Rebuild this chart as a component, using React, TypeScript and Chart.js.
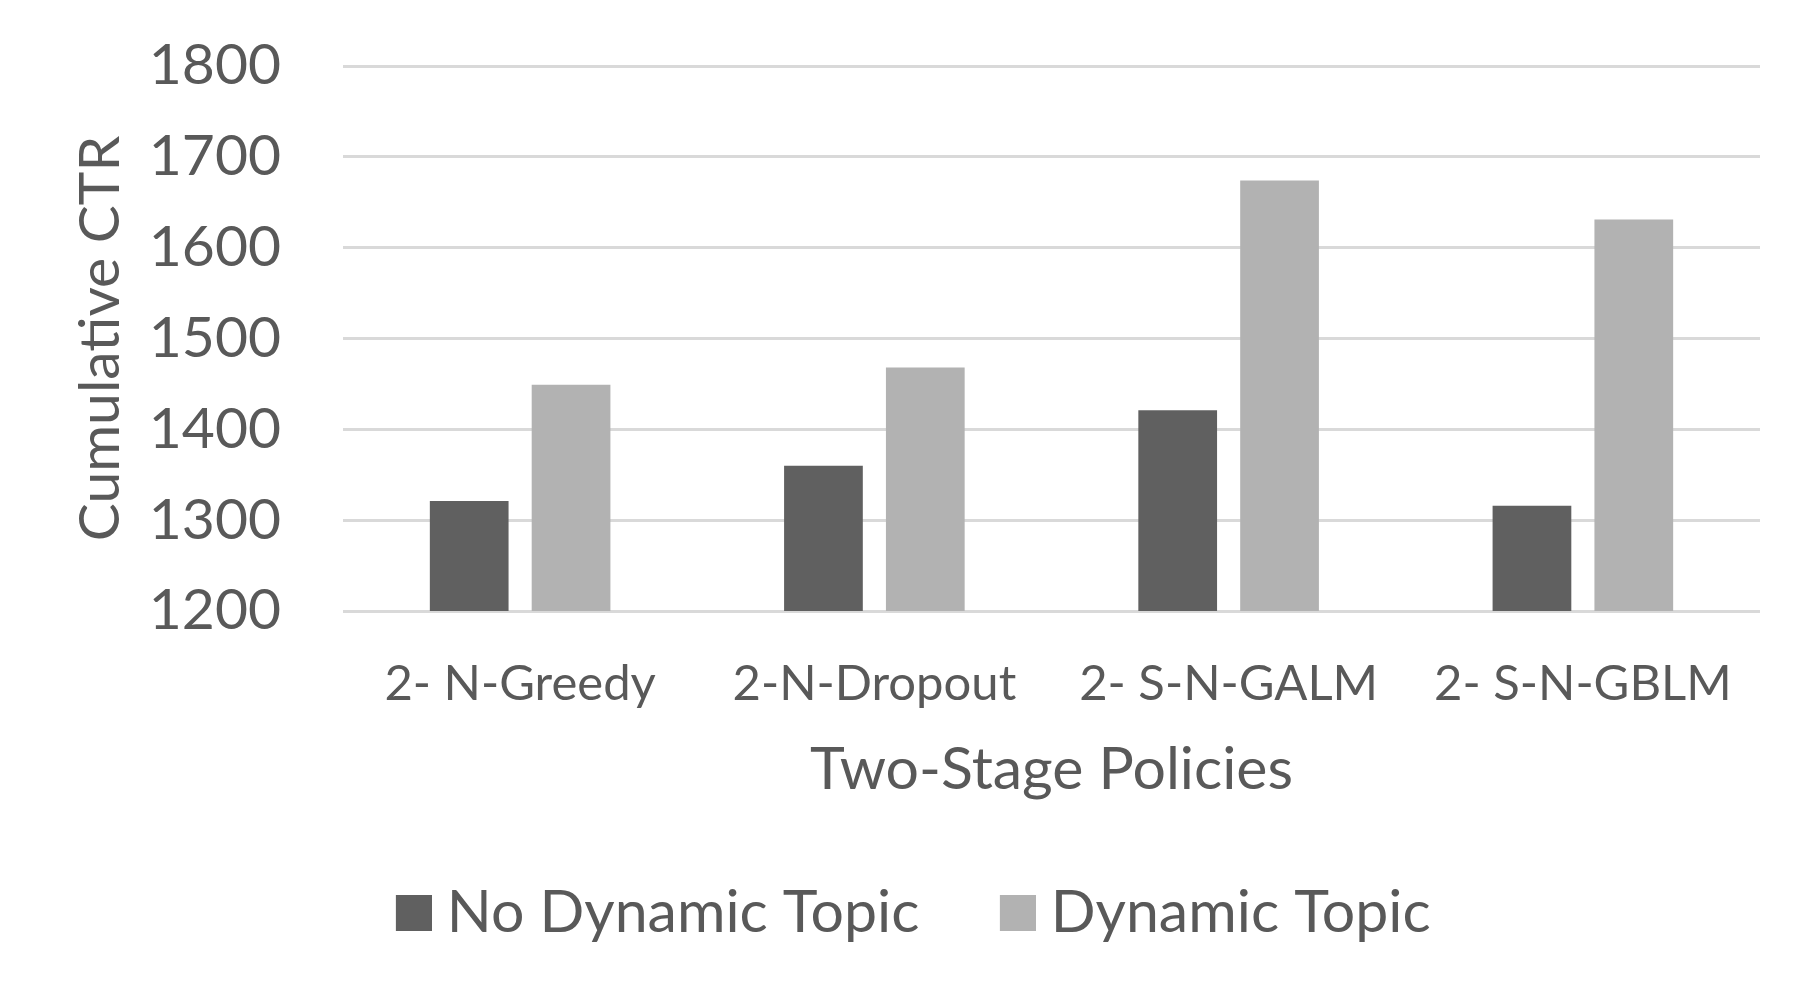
import React, { useEffect, useRef } from "react";
import { Chart, registerables } from "chart.js";

Chart.register(...registerables);

const categories = ["2- N-Greedy", "2-N-Dropout", "2- S-N-GALM", "2- S-N-GBLM"];
const noDynamicTopic = [1321, 1360, 1421, 1316];
const dynamicTopic = [1449, 1468, 1674, 1631];
const seriesLabels = ["No Dynamic Topic", "Dynamic Topic"];
const seriesColors = ["#606060", "#b2b2b2"];
const yMin = 1200;
const yMax = 1800;
const yStep = 100;

const FONT = "Lato";
const TEXT = "#595959";

function makeSwatch(color: string): HTMLCanvasElement {
  // legend swatch: 36x36 square placed at the right side of a wider transparent canvas
  const c = document.createElement("canvas");
  c.width = 65;
  c.height = 36;
  const ctx = c.getContext("2d");
  if (ctx) {
    ctx.fillStyle = color;
    ctx.fillRect(29, 0, 36, 36);
  }
  return c;
}

export default function App() {
  const ref = useRef<HTMLCanvasElement | null>(null);

  useEffect(() => {
    if (!ref.current) return;
    const swatches = seriesColors.map(makeSwatch);
    const chart = new Chart(ref.current, {
      type: "bar",
      data: {
        labels: categories,
        datasets: [
          {
            label: seriesLabels[0],
            data: noDynamicTopic,
            backgroundColor: seriesColors[0],
            borderWidth: 0,
            categoryPercentage: 0.575,
            barPercentage: 0.773,
          },
          {
            label: seriesLabels[1],
            data: dynamicTopic,
            backgroundColor: seriesColors[1],
            borderWidth: 0,
            categoryPercentage: 0.575,
            barPercentage: 0.773,
          },
        ],
      },
      options: {
        responsive: false,
        animation: false,
        devicePixelRatio: 1,
        layout: { padding: { top: 66, right: 55, bottom: 51, left: 52 } },
        plugins: {
          tooltip: { enabled: false },
          legend: {
            position: "bottom",
            labels: {
              color: TEXT,
              font: { family: FONT, size: 59 },
              boxWidth: 36,
              boxHeight: 36,
              padding: 66,
              usePointStyle: true,
              generateLabels: (ch: any) => {
                const items = Chart.defaults.plugins.legend.labels.generateLabels(ch);
                return items.map((it: any, i: number) => ({ ...it, pointStyle: swatches[i] }));
              },
            },
          },
        },
        scales: {
          x: {
            grid: { display: false, drawTicks: false },
            border: { display: false },
            ticks: {
              color: TEXT,
              font: { family: FONT, size: 49 },
              padding: 44,
              maxRotation: 0,
              autoSkip: false,
            },
            title: {
              display: true,
              text: "Two-Stage Policies",
              color: TEXT,
              font: { family: FONT, size: 59 },
              padding: { top: 0, bottom: 12 },
            },
            afterFit: (scale: any) => {
              scale.height = 206;
              scale.paddingLeft = 0;
              scale.paddingRight = 0;
            },
          },
          y: {
            min: yMin,
            max: yMax,
            grid: { color: "#d9d9d9", lineWidth: 3, drawTicks: false },
            border: { display: false },
            ticks: {
              stepSize: yStep,
              color: TEXT,
              font: { family: FONT, size: 57 },
              padding: 62,
              callback: (v: any) => String(v),
            },
            title: {
              display: true,
              text: "Cumulative CTR",
              color: TEXT,
              font: { family: FONT, size: 57 },
              padding: { top: 14, bottom: 0 },
            },
            afterFit: (scale: any) => {
              scale.width = 291;
              scale.paddingTop = 0;
              scale.paddingBottom = 0;
            },
          },
        },
      },
    });
    return () => chart.destroy();
  }, []);

  return (
    <div style={{ position: "absolute", left: 0, top: 0, width: 1815, height: 1003, background: "#fff" }}>
      <canvas ref={ref} width={1815} height={1003} style={{ width: 1815, height: 1003 }} />
    </div>
  );
}
